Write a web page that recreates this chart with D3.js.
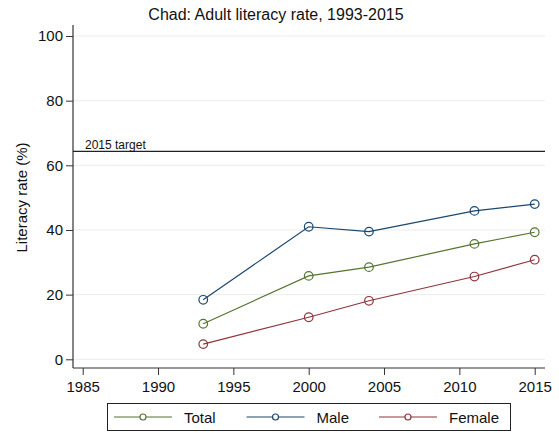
<!DOCTYPE html>
<html><head><meta charset="utf-8">
<script src="https://cdn.jsdelivr.net/npm/d3@7"></script>
<style>
html,body{margin:0;padding:0;background:#fff;}
svg{display:block;font-family:"Liberation Sans",Arial,sans-serif;}
</style></head>
<body><svg id="c" width="559" height="433"></svg>
<script>
const years = [1993, 2000, 2004, 2011, 2015];
const totalVals = [11.0, 25.8, 28.5, 35.7, 39.3];
const maleVals = [18.4, 41.0, 39.5, 45.9, 48.0];
const femaleVals = [4.7, 13.0, 18.1, 25.6, 30.8];
const seriesNames = ["Total", "Male", "Female"];
const seriesColors = ["#55752f", "#1a476f", "#90353b"];
const xTicks = [1985, 1990, 1995, 2000, 2005, 2010, 2015];
const yTicks = [0, 20, 40, 60, 80, 100];
const targetValue = 64.3;
const targetLabel = "2015 target";
const titleText = "Chad: Adult literacy rate, 1993-2015";
const yTitle = "Literacy rate (%)";

(function(){
const svg = d3.select("#c");
const ff = "Liberation Sans, Arial, sans-serif";
const x = d3.scaleLinear().domain([1985, 2015]).range([82.7, 534.7]);
const y = d3.scaleLinear().domain([0, 100]).range([359.3, 36]);
const pL = 73, pR = 545, pT = 25, pB = 368;

// gridlines
svg.append("g").selectAll("line").data(yTicks).join("line")
  .attr("x1", pL).attr("x2", pR)
  .attr("y1", d => y(d)).attr("y2", d => y(d))
  .attr("stroke", "#ececec").attr("stroke-width", 1);

// axes
const yAxis = d3.axisLeft(y).tickValues(yTicks).tickSize(7).tickPadding(3);
const gy = svg.append("g").attr("transform", `translate(${pL},0)`).call(yAxis);
gy.select(".domain").remove();
gy.append("line").attr("x1",0).attr("x2",0).attr("y1",pT).attr("y2",pB).attr("stroke","#333").attr("stroke-width",1.2);
gy.selectAll(".tick line").attr("stroke","#333");
gy.selectAll(".tick text").attr("font-size","15px").attr("fill","#111").attr("font-family",ff);

const xAxis = d3.axisBottom(x).tickValues(xTicks).tickFormat(d3.format("d")).tickSize(7).tickPadding(6);
const gx = svg.append("g").attr("transform", `translate(0,${pB})`).call(xAxis);
gx.select(".domain").remove();
gx.append("line").attr("x1",pL).attr("x2",pR).attr("y1",0).attr("y2",0).attr("stroke","#333").attr("stroke-width",1.2);
gx.selectAll(".tick line").attr("stroke","#333");
gx.selectAll(".tick text").attr("font-size","15px").attr("fill","#111").attr("font-family",ff);

// target line
svg.append("line").attr("x1", pL).attr("x2", pR)
  .attr("y1", y(targetValue)).attr("y2", y(targetValue))
  .attr("stroke", "#222").attr("stroke-width", 1.3);
svg.append("text").attr("x", 85).attr("y", y(targetValue) - 2.5)
  .attr("font-size", "12px").attr("fill", "#111").text(targetLabel);

// series
const allVals = [totalVals, maleVals, femaleVals];
const line = d3.line().x(d => x(d[0])).y(d => y(d[1]));
allVals.forEach((vals, i) => {
  const pts = years.map((yr, j) => [yr, vals[j]]);
  svg.append("path").datum(pts).attr("d", line)
    .attr("fill", "none").attr("stroke", seriesColors[i]).attr("stroke-width", 1.2);
  svg.append("g").selectAll("circle").data(pts).join("circle")
    .attr("cx", d => x(d[0])).attr("cy", d => y(d[1])).attr("r", 4.3)
    .attr("fill", "none").attr("stroke", seriesColors[i]).attr("stroke-width", 1.2);
});

// title
svg.append("text").attr("x", 276).attr("y", 20).attr("text-anchor", "middle")
  .attr("font-size", "16px").attr("fill", "#111").text(titleText);

// y title
svg.append("text").attr("transform", "translate(27,197.5) rotate(-90)")
  .attr("text-anchor", "middle").attr("font-size", "15px").attr("fill", "#111").text(yTitle);

// legend
const lg = svg.append("g");
lg.append("rect").attr("x", 107.5).attr("y", 403.5).attr("width", 403).attr("height", 27)
  .attr("fill", "#fff").attr("stroke", "#222").attr("stroke-width", 1);
const lx = [114, 246.5, 379];
seriesNames.forEach((n, i) => {
  const cy = 417;
  lg.append("line").attr("x1", lx[i]).attr("x2", lx[i] + 58).attr("y1", cy).attr("y2", cy)
    .attr("stroke", seriesColors[i]).attr("stroke-width", 1.2);
  lg.append("circle").attr("cx", lx[i] + 29).attr("cy", cy).attr("r", 3)
    .attr("fill", "#fff").attr("stroke", seriesColors[i]).attr("stroke-width", 1.2);
  lg.append("text").attr("x", lx[i] + 70).attr("y", cy + 5.5).attr("font-size", "15px")
    .attr("fill", "#111").text(n);
});
})();
</script></body></html>
